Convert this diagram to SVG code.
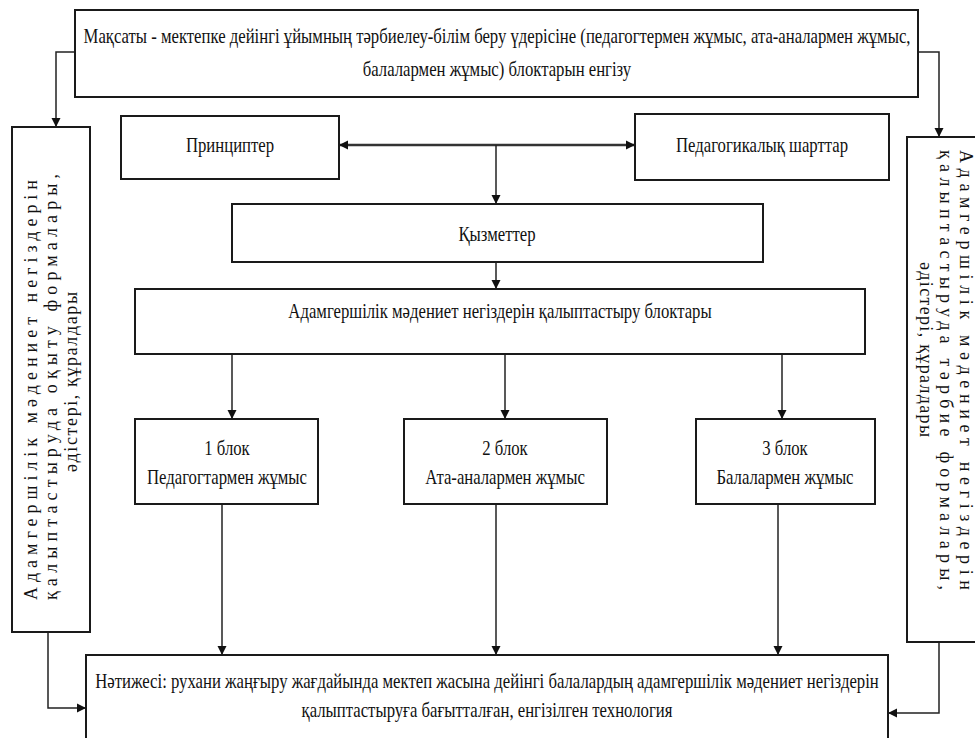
<svg xmlns="http://www.w3.org/2000/svg" width="975" height="738" viewBox="0 0 975 738">
<style>
.box{fill:#fff;stroke:#1a1a1a;stroke-width:2}
.t{font-family:"Liberation Serif","Times New Roman",serif;font-size:22px;fill:#111;text-anchor:middle}
.v{font-family:"Liberation Serif","Times New Roman",serif;font-size:18px;fill:#111}
.c{fill:none;stroke:#222;stroke-width:1.5}
.d{fill:none;stroke:#333;stroke-width:2.5}
</style>
<defs>
<marker id="ah" viewBox="0 0 10 10" refX="10" refY="5" markerWidth="9" markerHeight="10" markerUnits="userSpaceOnUse" orient="auto-start-reverse">
<path d="M0,0 L10,5 L0,10 z" fill="#111"/>
</marker>
</defs>
<rect width="975" height="738" fill="#fff"/>
<g id="connectors">
<path class="c" d="M75,52 H56 V127" marker-end="url(#ah)"/>
<path class="c" d="M918,52 H939 V137" marker-end="url(#ah)"/>
<path class="d" d="M339,145 H635" marker-start="url(#ah)" marker-end="url(#ah)"/>
<path class="c" d="M496,145 V204" marker-end="url(#ah)"/>
<path class="c" d="M496,262 V289" marker-end="url(#ah)"/>
<path class="c" d="M232,354 V419" marker-end="url(#ah)"/>
<path class="c" d="M505,354 V419" marker-end="url(#ah)"/>
<path class="c" d="M782,354 V419" marker-end="url(#ah)"/>
<path class="c" d="M222,504 V655" marker-end="url(#ah)"/>
<path class="c" d="M496,504 V655" marker-end="url(#ah)"/>
<path class="c" d="M778,504 V655" marker-end="url(#ah)"/>
<path class="c" d="M48,632 V708 H86" marker-end="url(#ah)"/>
<path class="c" d="M939,642 V713 H888" marker-end="url(#ah)"/>
</g>
<g id="goal">
<rect class="box" x="75" y="10" width="843" height="87"/>
<text class="t" transform="translate(497,43) scale(0.76,1)">Мақсаты - мектепке дейінгі ұйымның тәрбиелеу-білім беру үдерісіне (педагогтермен жұмыс, ата-аналармен жұмыс,</text>
<text class="t" transform="translate(497,76) scale(0.76,1)">балалармен жұмыс) блоктарын енгізу</text>
</g>
<g id="left-methods">
<rect class="box" x="12" y="127" width="78" height="505"/>
<text class="v" transform="translate(37,600) rotate(-90)" textLength="420" lengthAdjust="spacing">Адамгершілік мәдениет негіздерін</text>
<text class="v" transform="translate(57,600) rotate(-90)" textLength="426" lengthAdjust="spacing">қалыптастыруда оқыту формалары,</text>
<text class="v" transform="translate(77,472) rotate(-90)" textLength="180" lengthAdjust="spacing">әдістері, құралдары</text>
</g>
<g id="right-methods">
<rect class="box" x="907" y="137" width="90" height="505"/>
<text class="v" transform="translate(960,150) rotate(90)" textLength="440" lengthAdjust="spacing">Адамгершілік мәдениет негіздерін</text>
<text class="v" transform="translate(940,150) rotate(90)" textLength="440" lengthAdjust="spacing">қалыптастыруда тәрбие формалары,</text>
<text class="v" transform="translate(920,262) rotate(90)" textLength="175" lengthAdjust="spacing">әдістері, құралдары</text>
</g>
<g id="principles">
<rect class="box" x="121" y="116" width="218" height="63"/>
<text class="t" transform="translate(230,152) scale(0.76,1)">Принциптер</text>
</g>
<g id="conditions">
<rect class="box" x="635" y="114" width="254" height="66"/>
<text class="t" transform="translate(762,152) scale(0.76,1)">Педагогикалық шарттар</text>
</g>
<g id="functions">
<rect class="box" x="232" y="204" width="531" height="58"/>
<text class="t" transform="translate(497,241) scale(0.76,1)">Қызметтер</text>
</g>
<g id="blocks">
<rect class="box" x="135" y="289" width="730" height="65"/>
<text class="t" transform="translate(500,318) scale(0.76,1)">Адамгершілік мәдениет негіздерін қалыптастыру блоктары</text>
</g>
<g id="block1">
<rect class="box" x="135" y="419" width="183" height="85"/>
<text class="t" transform="translate(227,455) scale(0.76,1)">1 блок</text>
<text class="t" transform="translate(227,484) scale(0.76,1)">Педагогтармен жұмыс</text>
</g>
<g id="block2">
<rect class="box" x="404" y="419" width="203" height="85"/>
<text class="t" transform="translate(505,455) scale(0.76,1)">2 блок</text>
<text class="t" transform="translate(505,484) scale(0.76,1)">Ата-аналармен жұмыс</text>
</g>
<g id="block3">
<rect class="box" x="696" y="419" width="179" height="85"/>
<text class="t" transform="translate(785,455) scale(0.76,1)">3 блок</text>
<text class="t" transform="translate(785,484) scale(0.76,1)">Балалармен жұмыс</text>
</g>
<g id="result">
<rect class="box" x="86" y="655" width="802" height="95"/>
<text class="t" transform="translate(487,688) scale(0.76,1)">Нәтижесі: рухани жаңғыру жағдайында мектеп жасына дейінгі балалардың адамгершілік мәдениет негіздерін</text>
<text class="t" transform="translate(487,717) scale(0.76,1)">қалыптастыруға бағытталған, енгізілген технология</text>
</g>
</svg>
